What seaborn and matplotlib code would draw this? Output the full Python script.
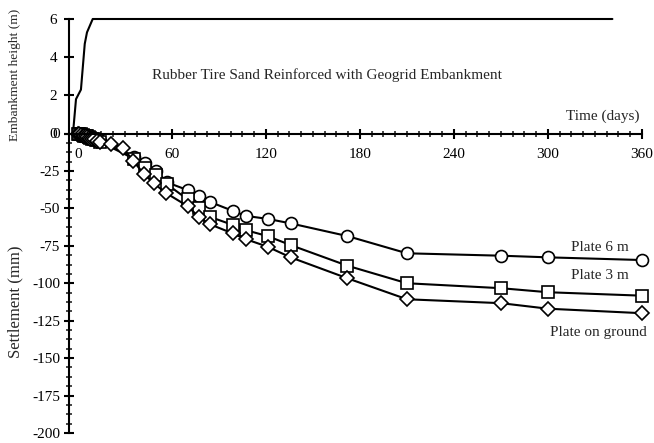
import numpy as np
import pandas as pd
import matplotlib
matplotlib.use("Agg")
import matplotlib.pyplot as plt
import seaborn as sns
from matplotlib.ticker import MultipleLocator

# ---------------- data ----------------
emb_days = [2.5, 4.4, 7.5, 9.9, 11.3, 14.9, 341.4]
emb_height = [0.0, 1.8, 2.3, 4.7, 5.3, 6.0, 6.0]

early_days = [0, 1, 2, 3, 4, 5, 6, 7, 8, 9, 10, 12, 14]

p6_days = early_days + [36, 43, 50, 57, 70, 77, 84, 98.7, 107, 121, 135.7, 172, 210, 270, 300, 360]
p6_settle = [0, 0, -0.5, -1, -1, -1.5, -2, -2.5, -3, -3, -3.5, -4, -5,
             -16, -20, -25, -32.7, -37.8, -41.8, -45.6, -51.6, -55, -57, -60,
             -68.5, -80, -81.6, -82.7, -84.5]

p3_days = early_days + [36, 43, 50, 57, 70, 77, 84, 98.7, 107, 121, 135.7, 172, 210, 270, 300, 360]
p3_settle = [0, 0, -0.5, -1, -1.5, -2, -2, -2.5, -3, -3.5, -4, -4.5, -5.5,
             -17, -23, -28, -34, -44, -50, -55.6, -61, -64.5, -68.5, -74.5,
             -88.3, -100, -103.3, -106, -108.3]

pg_days = early_days + [21, 29, 35.3, 42, 48.5, 56, 70, 77, 84, 98.7, 107, 121, 135.7, 172, 210, 270, 300, 360]
pg_settle = [0, -0.5, -1, -1.5, -2, -2, -2.5, -3, -3.5, -4, -4, -5, -6,
             -6.7, -10, -18.2, -27, -33.3, -39.6, -48.5, -55.6, -60.5, -66.7, -70.5,
             -75.6, -82.7, -96.7, -110.7, -113.3, -117, -120]

x_ticks = [0, 60, 120, 180, 240, 300, 360]
settle_ticks = [0, -25, -50, -75, -100, -125, -150, -175, -200]
height_ticks = [0, 2, 4, 6]

# ---------------- style ----------------
sns.set_style("white")
plt.rcParams["font.family"] = ["Liberation Serif", "DejaVu Serif"]
plt.rcParams["axes.unicode_minus"] = False

W, H = 654, 443
fig = plt.figure(figsize=(W / 100, H / 100), dpi=100)

x0, x1 = 69, 642
ax_top = fig.add_axes([x0 / W, (H - 133.5) / H, (x1 - x0) / W, (133.5 - 19) / H])
ax_bot = fig.add_axes([x0 / W, (H - 433) / H, (x1 - x0) / W, (433 - 133.5) / H])
for a in (ax_top, ax_bot):
    a.set_facecolor("none")

FS = 11

# top: embankment height
sns.lineplot(x=emb_days, y=emb_height, ax=ax_top, color="black", linewidth=1.5,
             sort=False, estimator=None, clip_on=False)
ax_top.set_xlim(0, 360)
ax_top.set_ylim(0, 6)
ax_top.set_yticks(height_ticks)
ax_top.set_xticks([])
for s in ("top", "right", "bottom"):
    ax_top.spines[s].set_visible(False)
ax_top.spines["left"].set_color("black")
ax_top.spines["left"].set_linewidth(1.5)
ax_top.tick_params(axis="y", direction="inout", length=7, width=1.5, labelsize=FS,
                   colors="black", pad=5, left=True)
ax_top.set_xlabel("")
ax_top.set_ylabel("")
ax_top.text(0.145, 0.51, "Rubber Tire Sand Reinforced with Geogrid Embankment",
            transform=ax_top.transAxes, fontsize=FS, ha="left", va="center")
ax_top.text(1.0 - 3 / (x1 - x0), 0.15, "Time (days)", transform=ax_top.transAxes,
            fontsize=FS, ha="right", va="center")

# bottom: settlement
series = [
    (p6_days, p6_settle, "o", 8.6),
    (p3_days, p3_settle, "s", 8.4),
    (pg_days, pg_settle, "D", 6.8),
]
for d, s, m, ms in series:
    sns.lineplot(x=d, y=s, ax=ax_bot, color="black", linewidth=1.5, marker=m,
                 markersize=ms, markerfacecolor="white", markeredgecolor="black",
                 markeredgewidth=1.2, sort=False, estimator=None, clip_on=False)

ax_bot.set_xlim(-5.7, 360)
ax_bot.set_ylim(-200, 0)
ax_bot.set_xticks(x_ticks)
ax_bot.xaxis.set_minor_locator(MultipleLocator(7.5))
ax_bot.set_yticks(settle_ticks)
ax_bot.yaxis.set_minor_locator(MultipleLocator(6.25))
ax_bot.spines["bottom"].set_position(("data", 0))
for s in ("top", "right"):
    ax_bot.spines[s].set_visible(False)
for s in ("left", "bottom"):
    ax_bot.spines[s].set_color("black")
    ax_bot.spines[s].set_linewidth(1.5)
ax_bot.tick_params(axis="both", which="major", direction="inout", length=7, width=1.5,
                   labelsize=FS, colors="black", bottom=True, left=True)
ax_bot.tick_params(axis="both", which="minor", direction="inout", length=5, width=1.2,
                   bottom=True, left=True)
ax_bot.tick_params(axis="x", pad=7)
ax_bot.tick_params(axis="y", pad=3)
ax_bot.set_xlabel("")
ax_bot.set_ylabel("")

ax_bot.text(351.5, -76, "Plate 6 m", fontsize=FS, ha="right", va="center")
ax_bot.text(351.5, -94.5, "Plate 3 m", fontsize=FS, ha="right", va="center")
ax_bot.text(363, -133, "Plate on ground", fontsize=FS, ha="right", va="center",
            clip_on=False)

fig.text(15 / W, 1 - 75 / H, "Embankment height (m)", rotation=90, fontsize=9.7,
         ha="center", va="center")
fig.text(15 / W, 1 - 302 / H, "Settlement (mm)", rotation=90, fontsize=12,
         ha="center", va="center")

fig.savefig("out.png", dpi=100)
